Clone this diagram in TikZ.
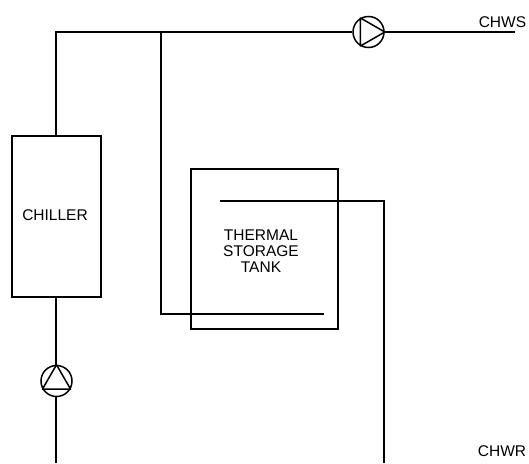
\documentclass[tikz,border=0pt]{standalone}
\usepackage{fontspec}
\setmainfont{Liberation Sans}
\begin{document}
\begin{tikzpicture}[x=1pt,y=-1pt,line width=1.8pt,
    boxstyle/.style={rectangle,draw,inner sep=0,align=center},
    pumpstyle/.style={circle,draw,inner sep=0,minimum size=31,line width=1.5pt},
    labelstyle/.style={inner sep=0,font=\fontsize{15.5}{16}\selectfont,align=center}]
  \useasboundingbox (0,0) rectangle (529,463);

  \node [boxstyle,minimum width=89,minimum height=161] (chiller) at (56.5,216.5) {};
  \node [labelstyle] (chillerlabel) at (55,215) {CHILLER};
  \node [boxstyle,minimum width=147,minimum height=160] (tank) at (264.5,249) {};
  \node [labelstyle] (tanklabel) at (261,251) {THERMAL\\STORAGE\\TANK};
  \node [pumpstyle] (supplypump) at (368.5,32) {};
  \node [pumpstyle] (returnpump) at (56.5,381) {};
  \node [labelstyle,anchor=east] (chws) at (527,22) {CHWS};
  \node [labelstyle,anchor=east] (chwr) at (527,451) {CHWR};

  \coordinate (corner) at (56,32);
  \coordinate (tee) at (161,32);
  \coordinate (chwsend) at (515,32);
  \coordinate (coilin) at (324,314);
  \coordinate (coilout) at (220,201);
  \coordinate (chwrend) at (384,463);
  \coordinate (pumpend) at (56,463);

  \foreach \a/\b/\c in {0/120/240}
    \draw [line width=1.5pt,line join=round] (supplypump.\a) -- (supplypump.\b) -- (supplypump.\c) -- cycle;
  \foreach \a/\b/\c in {90/210/330}
    \draw [line width=1.5pt,line join=round] (returnpump.\a) -- (returnpump.\b) -- (returnpump.\c) -- cycle;

  \draw (corner |- chiller.north) -- (corner) -- (supplypump.west);
  \draw (supplypump.east) -- (chwsend);
  \draw (tee) -- (tee |- coilin) -- (coilin);
  \draw (coilout) -- (chwrend |- coilout) -- (chwrend);
  \draw (corner |- chiller.south) -- (corner |- returnpump.north);
  \draw (corner |- returnpump.south) -- (pumpend);
\end{tikzpicture}
\end{document}
